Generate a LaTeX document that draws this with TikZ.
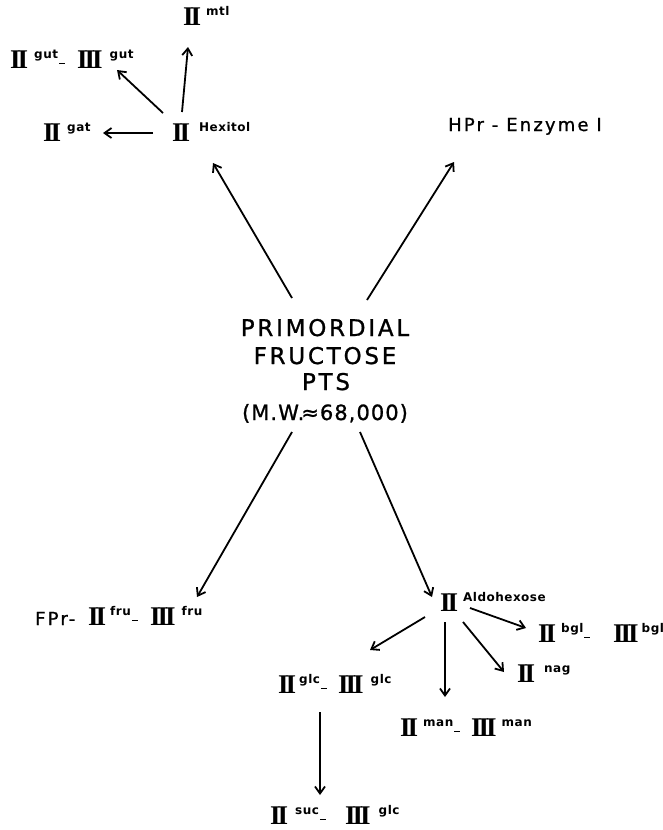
\documentclass[tikz,border=0pt]{standalone}
\usepackage{fontspec}
\usetikzlibrary{arrows.meta,calc}
\newfontfamily\romf{Liberation Serif}
\newfontfamily\supf[LetterSpace=4]{DejaVu Sans}
\newfontfamily\mainf[LetterSpace=12,FakeBold=1]{DejaVu Sans}
\newfontfamily\mwf[LetterSpace=5,FakeBold=1]{DejaVu Sans}
\newcommand\rII{{\romf\bfseries\fontsize{27}{27}\selectfont I\kern-3pt I}}
\newcommand\rIII{{\romf\bfseries\fontsize{27}{27}\selectfont I\kern-3pt I\kern-3pt I}}
\newcommand\spx[1]{\raisebox{10pt}{\supf\bfseries\fontsize{12}{12}\selectfont #1}}
\newcommand\dsh{\kern1pt\raisebox{4pt}{\rule{6pt}{1.5pt}}}
\newcommand\bigtxt{\mainf\fontsize{23}{23}\selectfont}
\newcommand\medtxt{\mainf\fontsize{18}{18}\selectfont}
\tikzset{
  lab/.style={inner sep=0pt, anchor=base west},
  ctr/.style={inner sep=0pt, anchor=base},
  arr/.style={line width=1.8pt, -{Straight Barb[length=7pt,width=10pt,line width=1.8pt]}}
}
\begin{document}
\begin{tikzpicture}[x=1pt,y=-1pt]
\useasboundingbox[fill=white] (0,0) rectangle (663,830);
% top group
\node[lab] (mtl) at (183,25) {\rII\kern5pt\spx{mtl}};
\node[lab] (gut) at (10,68) {\makebox[67pt][l]{\rII\kern6pt\spx{gut}\dsh}\rIII\kern7pt\spx{gut}};
\node[lab] (gat) at (43,141) {\rII\kern6pt\spx{gat}};
\node[lab] (hex) at (172,141) {\rII\kern9pt\spx{Hexitol}};
\node[lab] (hpr) at (448,131) {\medtxt HPr - Enzyme I};
% centre
\node[ctr] (p1) at (325,336) {\bigtxt PRIMORDIAL};
\node[ctr] (p2) at (325,364) {\bigtxt FRUCTOSE};
\node[ctr] (p3) at (326,390) {\bigtxt PTS};
\node[ctr] (mw) at (325,420) {\mwf\fontsize{21}{21}\selectfont (M.W.\kern-3pt≈68,000)};
% bottom group
\node[lab] (fpr) at (35,625) {\makebox[53pt][l]{\medtxt FPr-}\makebox[62pt][l]{\rII\kern4pt\spx{fru}\dsh}\rIII\kern6pt\spx{fru}};
\node[lab] (ald) at (440,611) {\rII\kern5pt\spx{Aldohexose}};
\node[lab] (bgl) at (538,642) {\makebox[75pt][l]{\rII\kern5pt\spx{bgl}\dsh}\rIII\kern3pt\spx{bgl}};
\node[lab] (nag) at (517,682) {\rII\kern9pt\spx{nag}};
\node[lab] (glc) at (278,693) {\makebox[60pt][l]{\rII\kern3pt\spx{glc}\dsh}\rIII\kern7pt\spx{glc}};
\node[lab] (man) at (400,736) {\makebox[71pt][l]{\rII\kern5pt\spx{man}\dsh}\rIII\kern5pt\spx{man}};
\node[lab] (suc) at (270,824) {\makebox[75pt][l]{\rII\kern7pt\spx{suc}\dsh}\rIII\kern8pt\spx{glc}};
% arrows
\draw[arr] ($(hex.base west)+(10,-29)$) -- ($(mtl.base west)+(5,22)$);
\draw[arr] ($(hex.base west)+(-9,-28)$) -- ($(gut.base west)+(107,2)$);
\draw[arr] ($(hex.base west)+(-19,-8)$) -- ($(gat.base west)+(60,-8)$);
\draw[arr] ($(p1.base)+(-33,-38)$) -- ($(hex.base west)+(41,22)$);
\draw[arr] ($(p1.base)+(42,-36)$) -- ($(hpr.base west)+(6,31)$);
\draw[arr] ($(mw.base)+(-33,12)$) -- ($(fpr.base west)+(162,-28)$);
\draw[arr] ($(mw.base)+(35,12)$) -- ($(ald.base west)+(-8,-14)$);
\draw[arr] ($(ald.base west)+(-15,6)$) -- ($(glc.base west)+(92,-43)$);
\draw[arr] ($(ald.base west)+(5,11)$) -- ($(man.base west)+(45,-39)$);
\draw[arr] ($(ald.base west)+(23,11)$) -- ($(nag.base west)+(-13,-10)$);
\draw[arr] ($(ald.base west)+(30,-3)$) -- ($(bgl.base west)+(-12,-14)$);
\draw[arr] ($(glc.base west)+(42,19)$) -- ($(suc.base west)+(50,-29)$);
\end{tikzpicture}
\end{document}
